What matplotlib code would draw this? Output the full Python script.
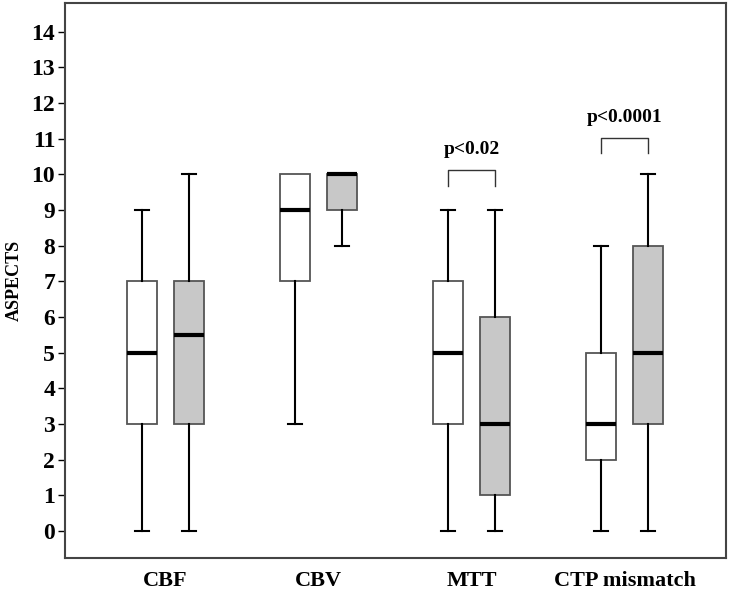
import matplotlib

matplotlib.use("Agg")
import matplotlib.pyplot as plt

plt.rcParams["font.family"] = ["Liberation Serif", "DejaVu Serif"]
plt.rcParams["font.weight"] = "bold"

categories = ["CBF", "CBV", "MTT", "CTP mismatch"]

# (whislo, q1, med, q3, whishi) per group
white_stats = [
    (0, 3, 5, 7, 9),
    (3, 7, 9, 10, 10),
    (0, 3, 5, 7, 9),
    (0, 2, 3, 5, 8),
]
gray_stats = [
    (0, 3, 5.5, 7, 10),
    (8, 9, 10, 10, 10),
    (0, 1, 3, 6, 9),
    (0, 3, 5, 8, 10),
]

p_labels = ["p<0.02", "p<0.0001"]
p_groups = [2, 3]
p_bracket_top = [10.13, 11.03]
p_bracket_leg = [9.68, 10.6]


def to_bxp(rows):
    out = []
    for lo, q1, med, q3, hi in rows:
        out.append(dict(whislo=lo, q1=q1, med=med, q3=q3, whishi=hi, fliers=[]))
    return out


fig = plt.figure(figsize=(7.3, 5.92), dpi=100)
ax = fig.add_axes([0.089, 0.0574, 0.9055, 0.9376])

off = 0.154
width = 0.196
pos = list(range(1, len(categories) + 1))

common = dict(
    widths=width,
    patch_artist=True,
    showfliers=False,
    whiskerprops=dict(color="black", linewidth=1.5),
    capprops=dict(color="black", linewidth=1.5),
    medianprops=dict(color="black", linewidth=3),
    manage_ticks=False,
)
b1 = ax.bxp(to_bxp(white_stats), positions=[p - off for p in pos],
            boxprops=dict(facecolor="white", edgecolor="#555555", linewidth=1.3),
            **common)
b2 = ax.bxp(to_bxp(gray_stats), positions=[p + off for p in pos],
            boxprops=dict(facecolor="#c8c8c8", edgecolor="#555555", linewidth=1.3),
            **common)
for res, rows in ((b1, white_stats), (b2, gray_stats)):
    for i, (lo, q1, med, q3, hi) in enumerate(rows):
        for c, edge, val in ((res["caps"][2 * i], q1, lo), (res["caps"][2 * i + 1], q3, hi)):
            x0, x1 = c.get_xdata()
            m = (x0 + x1) / 2
            c.set_xdata([m - 0.046, m + 0.046])
            if val == edge:
                c.set_visible(False)

# significance brackets
for lab, g, top, leg in zip(p_labels, p_groups, p_bracket_top, p_bracket_leg):
    xa = pos[g] - off
    xb = pos[g] + off
    ax.plot([xa, xa, xb, xb], [leg, top, top, leg], color="#333333", linewidth=1)
    ax.text(pos[g], top + 0.33, lab, ha="center", va="bottom",
            fontsize=14, fontweight="bold")

ax.set_xlim(0.343, 4.663)
ax.set_ylim(-0.76, 14.81)
ax.set_yticks(range(0, 15))
ax.set_xticks(pos)
ax.set_xticklabels(categories, fontsize=16, fontweight="bold")
ax.tick_params(axis="x", length=0, pad=9)
ax.tick_params(axis="y", length=5, width=1, labelsize=17, direction="out", pad=2)
for lab in ax.get_yticklabels():
    lab.set_fontweight("bold")
ax.set_ylabel("ASPECTS", fontsize=13, fontweight="bold", labelpad=6)
for s in ax.spines.values():
    s.set_color("#444444")
    s.set_linewidth(1.5)

fig.savefig("out.png", dpi=100)
